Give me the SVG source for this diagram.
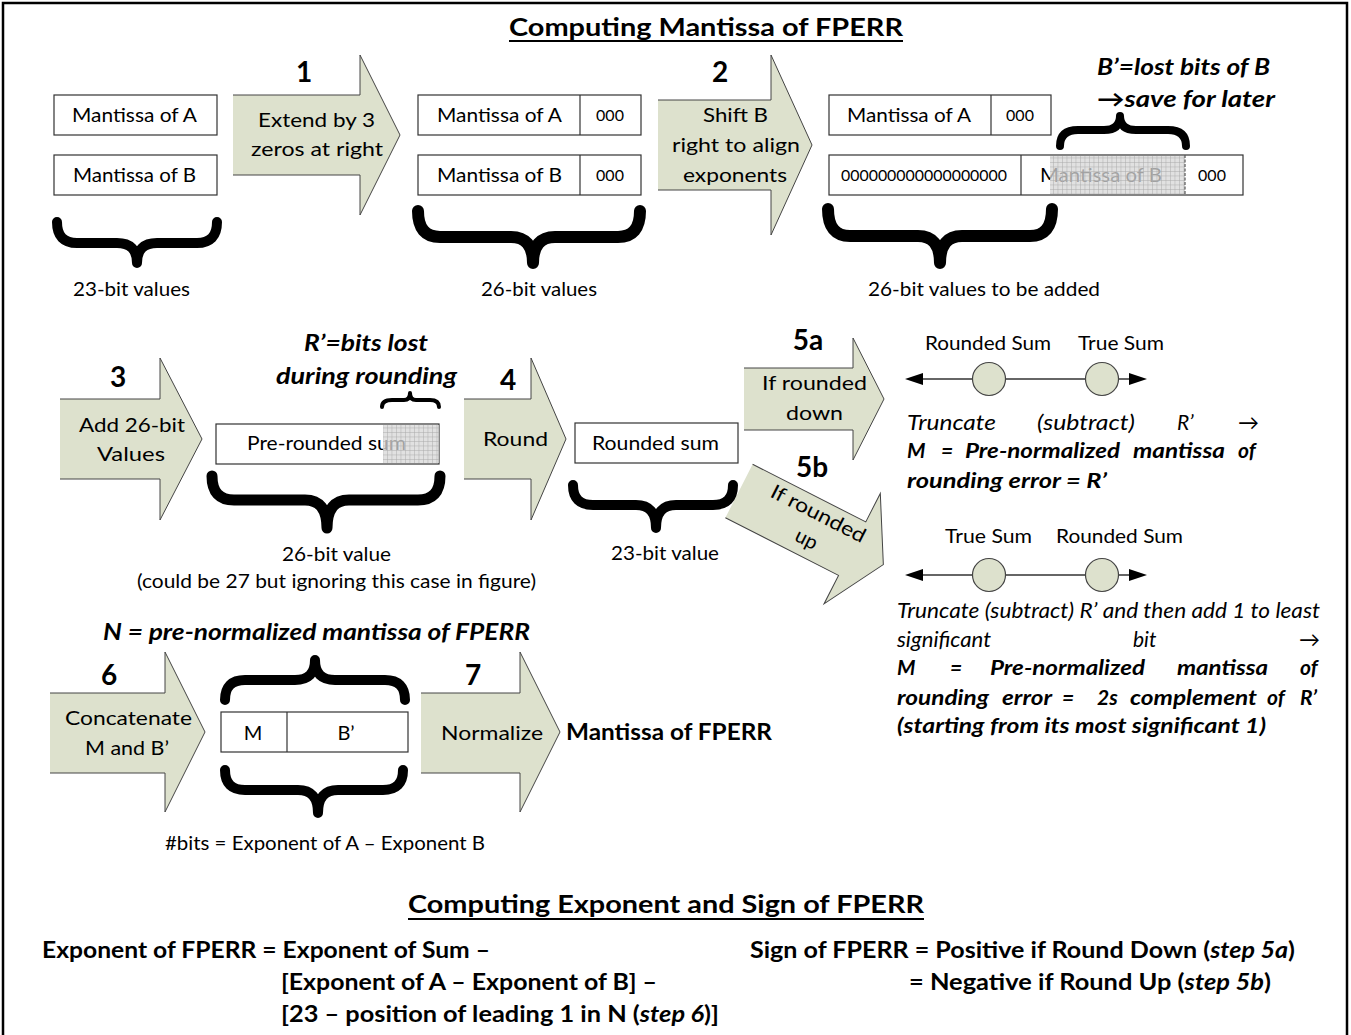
<svg xmlns="http://www.w3.org/2000/svg" width="1351" height="1035" viewBox="0 0 1351 1035">
<defs>
<style>
text{font-family:Lato,"Open Sans","Liberation Sans",sans-serif;fill:#000}
.r{font-size:20px}
.s{font-size:16px}
.b{font-weight:bold}
.i{font-style:italic}
.bi{font-weight:bold;font-style:italic}
.num{font-size:28px;font-weight:bold;text-anchor:middle}
.box{fill:#fff;stroke:#333;stroke-width:1.2}
.af{fill:#dde1cd;stroke:none}
.as{fill:none;stroke:#444;stroke-width:1}
.br{fill:none;stroke:#000;stroke-linecap:round;stroke-linejoin:round}
.circ{fill:#dde1cd;stroke:#444;stroke-width:1.2}
.nl{stroke:#333;stroke-width:1.5}
</style>
<pattern id="hatch" width="4.5" height="4.5" patternUnits="userSpaceOnUse">
<rect width="4.5" height="4.5" fill="#d6d6d6" fill-opacity="0.75"/>
<path d="M0 0.3H4.5M0.3 0V4.5" stroke="#aaa" stroke-width="0.6"/>
</pattern>
</defs>
<rect x="3" y="3" width="1344" height="1045" fill="#fff" stroke="#000" stroke-width="2.5"/>

<g id="title">
<text x="509" y="36" class="b" font-size="25" textLength="394" lengthAdjust="spacingAndGlyphs">Computing Mantissa of FPERR</text>
<line x1="509" y1="41" x2="903" y2="41" stroke="#000" stroke-width="2"/>
</g>

<g id="connectors">
<g id="arrow1">
<polygon class="af" points="233,95 360,95 360,55 400,135 360,215 360,175 233,175"/>
<polyline class="as" points="233,95 360,95 360,55 400,135 360,215 360,175 233,175"/>
<text x="304" y="82" class="num">1</text>
<text x="258" y="127" class="r" textLength="117" lengthAdjust="spacingAndGlyphs">Extend by 3</text>
<text x="251" y="156" class="r" textLength="132" lengthAdjust="spacingAndGlyphs">zeros at right</text>
</g>
<g id="arrow2">
<polygon class="af" points="658,100 771,100 771,55 812,145 771,235 771,190 658,190"/>
<polyline class="as" points="658,100 771,100 771,55 812,145 771,235 771,190 658,190"/>
<text x="720" y="82" class="num">2</text>
<text x="703" y="122" class="r" textLength="65" lengthAdjust="spacingAndGlyphs">Shift B</text>
<text x="672" y="152" class="r" textLength="128" lengthAdjust="spacingAndGlyphs">right to align</text>
<text x="683" y="182" class="r" textLength="104" lengthAdjust="spacingAndGlyphs">exponents</text>
</g>
<g id="arrow3">
<polygon class="af" points="60,399 160,399 160,358 202,439 160,520 160,479 60,479"/>
<polyline class="as" points="60,399 160,399 160,358 202,439 160,520 160,479 60,479"/>
<text x="118" y="387" class="num">3</text>
<text x="79" y="432" class="r" textLength="106" lengthAdjust="spacingAndGlyphs">Add 26-bit</text>
<text x="97" y="461" class="r" textLength="68" lengthAdjust="spacingAndGlyphs">Values</text>
</g>
<g id="arrow4">
<polygon class="af" points="464,399 531,399 531,358 566,439 531,520 531,479 464,479"/>
<polyline class="as" points="464,399 531,399 531,358 566,439 531,520 531,479 464,479"/>
<text x="508" y="390" class="num">4</text>
<text x="483" y="446" class="r" textLength="65" lengthAdjust="spacingAndGlyphs">Round</text>
</g>
<g id="arrow5a">
<polygon class="af" points="744,368 853,368 853,338 884,399 853,460 853,430 744,430"/>
<polyline class="as" points="744,368 853,368 853,338 884,399 853,460 853,430 744,430"/>
<text x="808" y="350" class="num">5a</text>
<text x="762" y="390" class="r" textLength="105" lengthAdjust="spacingAndGlyphs">If rounded</text>
<text x="786" y="420" class="r" textLength="57" lengthAdjust="spacingAndGlyphs">down</text>
</g>
<g id="arrow5b">
<text x="812" y="477" class="num">5b</text>
<g transform="translate(739,491) rotate(27)">
<polygon class="af" points="0,-30 127,-30 127,-62 162,0 127,62 127,30 0,30"/>
<polyline class="as" points="0,-30 127,-30 127,-62 162,0 127,62 127,30 0,30"/>
<text x="81" y="-9" class="r" text-anchor="middle" textLength="104" lengthAdjust="spacingAndGlyphs">If rounded</text>
<text x="82" y="19" class="r" text-anchor="middle">up</text>
</g>
</g>
<g id="arrow6">
<polygon class="af" points="50,693 165,693 165,652 205,732 165,812 165,773 50,773"/>
<polyline class="as" points="50,693 165,693 165,652 205,732 165,812 165,773 50,773"/>
<text x="109" y="685" class="num">6</text>
<text x="65" y="725" class="r" textLength="127" lengthAdjust="spacingAndGlyphs">Concatenate</text>
<text x="85" y="755" class="r" textLength="84" lengthAdjust="spacingAndGlyphs">M and B’</text>
</g>
<g id="arrow7">
<polygon class="af" points="421,693 520,693 520,652 560,732 520,812 520,773 421,773"/>
<polyline class="as" points="421,693 520,693 520,652 560,732 520,812 520,773 421,773"/>
<text x="473" y="685" class="num">7</text>
<text x="441" y="740" class="r" textLength="102" lengthAdjust="spacingAndGlyphs">Normalize</text>
</g>
</g>

<g id="inputs">
<rect class="box" x="54" y="95" width="163" height="40"/>
<text x="72" y="122" class="r" textLength="125" lengthAdjust="spacingAndGlyphs">Mantissa of A</text>
<rect class="box" x="54" y="155" width="163" height="40"/>
<text x="73" y="182" class="r" textLength="123" lengthAdjust="spacingAndGlyphs">Mantissa of B</text>
<path class="br" stroke-width="10" d="M57 222 Q57 243 77 243 L117 243 Q137 243 137 263 Q137 243 157 243 L197 243 Q217 243 217 222"/>
<text x="73" y="296" class="r" textLength="117" lengthAdjust="spacingAndGlyphs">23-bit values</text>
</g>

<g id="extended">
<rect class="box" x="418" y="95" width="223" height="40"/>
<line x1="580" y1="95" x2="580" y2="135" stroke="#333" stroke-width="1.2"/>
<text x="437" y="122" class="r" textLength="125" lengthAdjust="spacingAndGlyphs">Mantissa of A</text>
<text x="610" y="121" class="s" text-anchor="middle">000</text>
<rect class="box" x="418" y="155" width="223" height="40"/>
<line x1="580" y1="155" x2="580" y2="195" stroke="#333" stroke-width="1.2"/>
<text x="437" y="182" class="r" textLength="125" lengthAdjust="spacingAndGlyphs">Mantissa of B</text>
<text x="610" y="181" class="s" text-anchor="middle">000</text>
<path class="br" stroke-width="12" d="M418 211 Q418 237 440 237 L511 237 Q533 237 533 263 Q533 237 555 237 L618 237 Q640 237 640 211"/>
<text x="481" y="296" class="r" textLength="116" lengthAdjust="spacingAndGlyphs">26-bit values</text>
</g>

<g id="shifted">
<rect class="box" x="829" y="95" width="222" height="40"/>
<line x1="991" y1="95" x2="991" y2="135" stroke="#333" stroke-width="1.2"/>
<text x="847" y="122" class="r" textLength="124" lengthAdjust="spacingAndGlyphs">Mantissa of A</text>
<text x="1020" y="121" class="s" text-anchor="middle">000</text>
<rect class="box" x="829" y="155" width="414" height="40"/>
<line x1="1021" y1="155" x2="1021" y2="195" stroke="#333" stroke-width="1.2"/>
<text x="841" y="181" class="s" textLength="166" lengthAdjust="spacingAndGlyphs">000000000000000000</text>
<text x="1040" y="182" class="r" textLength="122" lengthAdjust="spacingAndGlyphs">Mantissa of B</text>
<rect x="1050" y="156" width="135" height="38" fill="url(#hatch)"/>
<line x1="1185" y1="155" x2="1185" y2="195" stroke="#555" stroke-width="1.2" stroke-dasharray="3,1.5"/>
<text x="1212" y="181" class="s" text-anchor="middle">000</text>
<path class="br" stroke-width="12" d="M828 209 Q828 236 850 236 L918 236 Q940 236 940 263 Q940 236 962 236 L1030 236 Q1052 236 1052 209"/>
<text x="868" y="296" class="r" textLength="232" lengthAdjust="spacingAndGlyphs">26-bit values to be added</text>
<path class="br" stroke-width="8" d="M1060 146 Q1060 130 1078 130 L1104 130 Q1120 130 1120 116 Q1120 130 1136 130 L1168 130 Q1186 130 1186 146"/>
<text x="1097" y="75" class="bi" font-size="23" textLength="173" lengthAdjust="spacingAndGlyphs">B’=lost bits of B</text>
<text x="1097" y="107" class="bi" font-size="23" textLength="178" lengthAdjust="spacingAndGlyphs">→save for later</text>
</g>

<g id="prerounded">
<rect class="box" x="216" y="424" width="223" height="40"/>
<text x="247" y="450" class="r" textLength="159" lengthAdjust="spacingAndGlyphs">Pre-rounded sum</text>
<rect x="383" y="425" width="56" height="38" fill="url(#hatch)"/>
<path class="br" stroke-width="4" d="M382 407 Q382 400 392 400 L404 400 Q410 400 410 393 Q410 400 416 400 L430 400 Q439 400 439 407"/>
<text x="304" y="351" class="bi" font-size="23" textLength="124" lengthAdjust="spacingAndGlyphs">R’=bits lost</text>
<text x="276" y="384" class="bi" font-size="23" textLength="181" lengthAdjust="spacingAndGlyphs">during rounding</text>
<path class="br" stroke-width="11" d="M212 476 Q212 500 234 500 L305 500 Q327 500 327 528 Q327 500 349 500 L418 500 Q440 500 440 476"/>
<text x="282" y="561" class="r" textLength="109" lengthAdjust="spacingAndGlyphs">26-bit value</text>
<text x="137" y="588" class="r" textLength="399" lengthAdjust="spacingAndGlyphs">(could be 27 but ignoring this case in figure)</text>
</g>

<g id="rounded">
<rect class="box" x="575" y="423" width="163" height="40"/>
<text x="592" y="450" class="r" textLength="127" lengthAdjust="spacingAndGlyphs">Rounded sum</text>
<path class="br" stroke-width="10" d="M573 485 Q573 505 593 505 L636 505 Q656 505 656 528 Q656 505 676 505 L713 505 Q733 505 733 485"/>
<text x="611" y="560" class="r" textLength="108" lengthAdjust="spacingAndGlyphs">23-bit value</text>
</g>

<g id="case-down">
<text x="925" y="350" class="r" textLength="126" lengthAdjust="spacingAndGlyphs">Rounded Sum</text>
<text x="1078" y="350" class="r" textLength="86" lengthAdjust="spacingAndGlyphs">True Sum</text>
<line class="nl" x1="918" y1="379" x2="1134" y2="379"/>
<polygon points="905,379 923,373 923,385" fill="#000"/>
<polygon points="1147,379 1129,373 1129,385" fill="#000"/>
<circle class="circ" cx="989" cy="379" r="16.5"/>
<circle class="circ" cx="1102" cy="379" r="16.5"/>
<text y="430" class="i" font-size="21"><tspan x="907" textLength="89" lengthAdjust="spacingAndGlyphs">Truncate</tspan><tspan x="1037" textLength="98" lengthAdjust="spacingAndGlyphs">(subtract)</tspan><tspan x="1177">R’</tspan><tspan x="1238">→</tspan></text>
<text y="458" class="bi" font-size="21"><tspan x="907">M</tspan><tspan x="941">=</tspan><tspan x="965" textLength="155" lengthAdjust="spacingAndGlyphs">Pre-normalized</tspan><tspan x="1133" textLength="92" lengthAdjust="spacingAndGlyphs">mantissa</tspan><tspan x="1238">of</tspan></text>
<text x="907" y="488" class="bi" font-size="21" textLength="200" lengthAdjust="spacingAndGlyphs">rounding error  = R’</text>
</g>

<g id="case-up">
<text x="945" y="543" class="r" textLength="87" lengthAdjust="spacingAndGlyphs">True Sum</text>
<text x="1056" y="543" class="r" textLength="127" lengthAdjust="spacingAndGlyphs">Rounded Sum</text>
<line class="nl" x1="918" y1="575" x2="1134" y2="575"/>
<polygon points="905,575 923,569 923,581" fill="#000"/>
<polygon points="1147,575 1129,569 1129,581" fill="#000"/>
<circle class="circ" cx="989" cy="575" r="16.5"/>
<circle class="circ" cx="1102" cy="575" r="16.5"/>
<text x="897" y="618" class="i" font-size="21" textLength="423" lengthAdjust="spacingAndGlyphs">Truncate (subtract) R’ and then add 1 to least</text>
<text y="647" class="i" font-size="21"><tspan x="897" textLength="94" lengthAdjust="spacingAndGlyphs">significant</tspan><tspan x="1133">bit</tspan><tspan x="1299">→</tspan></text>
<text y="675" class="bi" font-size="21"><tspan x="897">M</tspan><tspan x="950">=</tspan><tspan x="990" textLength="155" lengthAdjust="spacingAndGlyphs">Pre-normalized</tspan><tspan x="1177" textLength="91" lengthAdjust="spacingAndGlyphs">mantissa</tspan><tspan x="1300">of</tspan></text>
<text y="705" class="bi" font-size="21"><tspan x="897" textLength="92" lengthAdjust="spacingAndGlyphs">rounding</tspan><tspan x="1002" textLength="50" lengthAdjust="spacingAndGlyphs">error</tspan><tspan x="1062">=</tspan><tspan x="1097">2s</tspan><tspan x="1130" textLength="127" lengthAdjust="spacingAndGlyphs">complement</tspan><tspan x="1267">of</tspan><tspan x="1300">R’</tspan></text>
<text x="897" y="733" class="bi" font-size="21" textLength="369" lengthAdjust="spacingAndGlyphs">(starting from its most significant 1)</text>
</g>

<g id="concat">
<text x="103" y="640" class="bi" font-size="23" textLength="427" lengthAdjust="spacingAndGlyphs">N = pre-normalized mantissa of FPERR</text>
<path class="br" stroke-width="10" d="M225 700 Q225 680 245 680 L295 680 Q315 680 315 660 Q315 680 335 680 L385 680 Q405 680 405 700"/>
<rect class="box" x="221" y="712" width="187" height="40"/>
<line x1="287" y1="712" x2="287" y2="752" stroke="#333" stroke-width="1.2"/>
<text x="253" y="740" class="r" text-anchor="middle">M</text>
<text x="346" y="740" class="r" text-anchor="middle">B’</text>
<path class="br" stroke-width="10" d="M225 770 Q225 790 245 790 L298 790 Q318 790 318 813 Q318 790 338 790 L383 790 Q403 790 403 770"/>
<text x="165" y="850" class="r" textLength="320" lengthAdjust="spacingAndGlyphs">#bits = Exponent of A – Exponent B</text>
</g>

<g id="result">
<text x="566" y="740" class="b" font-size="22" textLength="206" lengthAdjust="spacingAndGlyphs">Mantissa of FPERR</text>
</g>

<g id="exponent-sign">
<text x="408" y="913" class="b" font-size="25" textLength="516" lengthAdjust="spacingAndGlyphs">Computing Exponent and Sign of FPERR</text>
<line x1="408" y1="919" x2="924" y2="919" stroke="#000" stroke-width="2"/>
<text x="42" y="958" class="b" font-size="22" textLength="448" lengthAdjust="spacingAndGlyphs">Exponent of FPERR = Exponent of Sum –</text>
<text x="281" y="990" class="b" font-size="22" textLength="376" lengthAdjust="spacingAndGlyphs">[Exponent of A – Exponent of B] –</text>
<text x="281" y="1022" class="b" font-size="22" textLength="438" lengthAdjust="spacingAndGlyphs">[23 – position of leading 1 in N (<tspan font-style="italic">step 6</tspan>)]</text>
<text x="750" y="958" class="b" font-size="22" textLength="545" lengthAdjust="spacingAndGlyphs">Sign of FPERR = Positive if Round Down (<tspan font-style="italic">step 5a</tspan>)</text>
<text x="909" y="990" class="b" font-size="22" textLength="362" lengthAdjust="spacingAndGlyphs">= Negative if Round Up (<tspan font-style="italic">step 5b</tspan>)</text>
</g>
</svg>
